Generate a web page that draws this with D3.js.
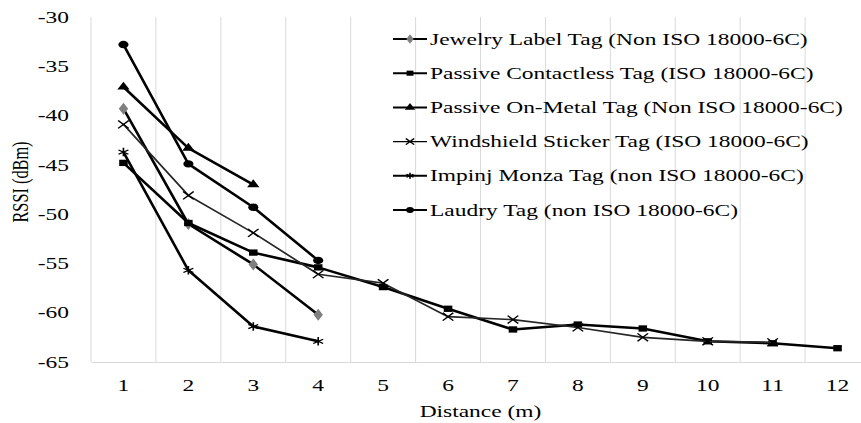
<!DOCTYPE html>
<html>
<head>
<meta charset="utf-8">
<script src="https://cdn.jsdelivr.net/npm/d3@7"></script>
<style>
  html, body { margin: 0; padding: 0; background: #fff; }
  svg { display: block; font-family: "Liberation Serif", "Times New Roman", serif; }
</style>
</head>
<body>
<div id="chart"></div>
<script>
// distances (m)
const distances = [1, 2, 3, 4, 5, 6, 7, 8, 9, 10, 11, 12];
const yTicks = [-30, -35, -40, -45, -50, -55, -60, -65];

const seriesNames = [
  'Jewelry Label Tag (Non ISO 18000-6C)',
  'Passive Contactless Tag (ISO 18000-6C)',
  'Passive On-Metal Tag (Non ISO 18000-6C)',
  'Windshield Sticker Tag (ISO 18000-6C)',
  'Impinj Monza Tag (non ISO 18000-6C)',
  'Laudry Tag (non ISO 18000-6C)'
];

// RSSI values (dBm) per series, starting at 1 m
const jewelry = [-39.3, -51.0, -55.1, -60.2];
const contactless = [-44.8, -50.9, -53.9, -55.4, -57.4, -59.6, -61.7, -61.2, -61.6, -62.9, -63.1, -63.6];
const onMetal = [-37.1, -43.3, -47.0];
const windshield = [-40.9, -48.1, -51.9, -56.1, -57.0, -60.4, -60.7, -61.5, -62.5, -62.9, -63.0];
const impinj = [-43.7, -55.7, -61.4, -62.9];
const laudry = [-32.8, -44.9, -49.3, -54.7];

const seriesValues = [jewelry, contactless, onMetal, windshield, impinj, laudry];
const seriesSymbols = [d3.symbolDiamond, d3.symbolSquare, d3.symbolTriangle, d3.symbolX, d3.symbolAsterisk, d3.symbolCircle];

const width = 861, height = 423;
const margin = { top: 17, right: -9, bottom: 61, left: 91 };
const fontSize = 16.3;
const sx = 1.44; // the original figure is stretched sideways

const svg = d3.select('#chart').append('svg')
  .attr('width', width)
  .attr('height', height)
  .attr('viewBox', [0, 0, width, height]);

const x = d3.scaleBand()
  .domain(distances)
  .range([margin.left, width - margin.right])
  .paddingInner(0).paddingOuter(0);

const y = d3.scaleLinear()
  .domain([-65, -30])
  .range([height - margin.bottom, margin.top]);

const cx = d => x(d) + x.bandwidth() / 2;

// vertical gridlines at category edges
svg.append('g')
  .attr('stroke', '#d9d9d9')
  .attr('stroke-width', 1)
  .selectAll('line')
  .data(distances)
  .join('line')
  .attr('x1', d => x(d)).attr('x2', d => x(d))
  .attr('y1', y(-30)).attr('y2', y(-65));

// x axis
svg.append('g')
  .attr('transform', `translate(0,${y(-65)})`)
  .call(d3.axisBottom(x).tickSize(0).tickPadding(17))
  .call(g => g.select('.domain').attr('stroke', '#d9d9d9'))
  .call(g => g.selectAll('text')
    .attr('font-size', fontSize).attr('font-family', 'Liberation Serif').attr('fill', '#000')
    .attr('transform', `scale(${sx},1)`));

// y axis
svg.append('g')
  .attr('transform', `translate(${margin.left},0)`)
  .call(d3.axisLeft(y).tickValues(yTicks).tickSize(0).tickFormat(d => String(d)))
  .call(g => g.select('.domain').remove())
  .call(g => g.selectAll('text')
    .attr('font-size', fontSize).attr('font-family', 'Liberation Serif').attr('fill', '#000')
    .attr('x', -22 / sx)
    .attr('transform', `scale(${sx},1)`));

svg.append('text')
  .attr('transform', `translate(28,182) scale(${sx},1) rotate(-90)`)
  .attr('text-anchor', 'middle')
  .attr('font-size', fontSize)
  .text('RSSI (dBm)');

svg.append('text')
  .attr('transform', `translate(${(x.range()[0] + x.range()[1]) / 2},417) scale(${sx},1)`)
  .attr('text-anchor', 'middle')
  .attr('font-size', fontSize)
  .text('Distance (m)');

const line = d3.line()
  .x((d, i) => cx(distances[i]))
  .y(d => y(d));

function drawMarker(sel, k, size) {
  const sym = seriesSymbols[k];
  const stroked = sym === d3.symbolX || sym === d3.symbolAsterisk;
  sel.attr('d', d3.symbol(sym, size))
    .attr('fill', stroked ? 'none' : (k === 0 ? '#7f7f7f' : '#000'))
    .attr('stroke', stroked ? '#000' : 'none')
    .attr('stroke-width', stroked ? 1.2 : 0);
}

const sizes = [42, 40, 36, 42, 50, 44];

seriesValues.forEach((vals, k) => {
  svg.append('path')
    .datum(vals)
    .attr('fill', 'none')
    .attr('stroke', k === 3 ? '#262626' : '#000')
    .attr('stroke-width', k === 3 ? 1.7 : 2.6)
    .attr('stroke-linejoin', 'round')
    .attr('d', line);

  svg.append('g')
    .selectAll('path')
    .data(vals)
    .join('path')
    .attr('transform', (d, i) => `translate(${cx(distances[i])},${y(d)}) scale(1.35,1)`)
    .call(drawMarker, k, sizes[k]);
});

// legend
const legend = svg.append('g').attr('transform', 'translate(393,39)');
seriesNames.forEach((name, k) => {
  const row = legend.append('g').attr('transform', `translate(0,${k * 34.2})`);
  row.append('line')
    .attr('x1', 0).attr('x2', 34)
    .attr('stroke', '#000')
    .attr('stroke-width', k === 3 ? 1.3 : 2);
  row.append('path')
    .attr('transform', 'translate(17,0) scale(1.35,1)')
    .call(drawMarker, k, 26);
  row.append('text')
    .attr('transform', `translate(37,0) scale(${sx},1)`)
    .attr('dy', '0.34em')
    .attr('font-size', fontSize)
    .text(name);
});
</script>
</body>
</html>
